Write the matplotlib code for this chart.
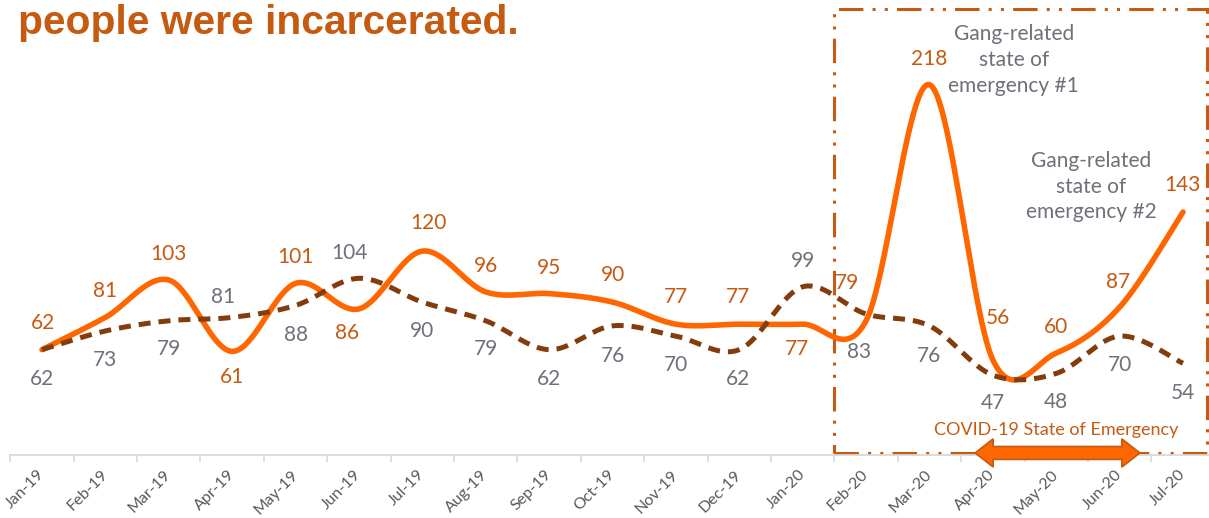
import matplotlib
matplotlib.use("Agg")
import matplotlib.pyplot as plt
from matplotlib.patches import Rectangle, Polygon
from matplotlib.transforms import ScaledTranslation
import numpy as np

months = ["Jan-19", "Feb-19", "Mar-19", "Apr-19", "May-19", "Jun-19", "Jul-19",
          "Aug-19", "Sep-19", "Oct-19", "Nov-19", "Dec-19", "Jan-20", "Feb-20",
          "Mar-20", "Apr-20", "May-20", "Jun-20", "Jul-20"]
series_a = [62, 81, 103, 61, 101, 86, 120, 96, 95, 90, 77, 77, 77, 79, 218, 56, 60, 87, 143]
series_b = [62, 73, 79, 81, 88, 104, 90, 79, 62, 76, 70, 62, 99, 83, 76, 47, 48, 70, 54]

# label offsets in pixels (dx, dy), picked to match the original layout
off_a = [(1, 27), (0, 26), (0, 26), (0, -26), (0, 26), (-12, -24), (6, 28), (0, 26),
         (0, 26), (0, 27), (0, 27), (-1, 27), (-6, -25), (-19, 38), (0, 26), (5, 42),
         (0, 26), (-2, 25), (-1, 27)]
off_b = [(0, -29), (0, -29), (0, -28), (-9, 20), (0, -30), (-9, 25), (0, -29), (0, -28),
         (0, -29), (0, -30), (0, -29), (-1, -29), (0, 26), (-7, -38), (0, -30), (0, -28),
         (0, -29), (0, -29), (0, -30)]

ORANGE = "#FF6600"
DARK_ORANGE = "#C55A11"
BROWN = "#843C0C"
GRAY = "#6F7079"


def smooth(y, n=40):
    # Catmull-Rom style smoothing like Excel's smoothed line
    x = np.arange(len(y), dtype=float)
    y = np.asarray(y, dtype=float)
    px = np.concatenate([[x[0]], x, [x[-1]]])
    py = np.concatenate([[y[0]], y, [y[-1]]])
    xs, ys = [], []
    t = np.linspace(0, 1, n)
    for i in range(len(y) - 1):
        p0 = np.array([px[i + 1], py[i + 1]])
        p3 = np.array([px[i + 2], py[i + 2]])
        p1 = p0 + (np.array([px[i + 2], py[i + 2]]) - np.array([px[i], py[i]])) / 6
        p2 = p3 - (np.array([px[i + 3], py[i + 3]]) - np.array([px[i + 1], py[i + 1]])) / 6
        b = ((1 - t) ** 3)[:, None] * p0 + (3 * (1 - t) ** 2 * t)[:, None] * p1 \
            + (3 * (1 - t) * t ** 2)[:, None] * p2 + (t ** 3)[:, None] * p3
        xs.extend(b[:, 0])
        ys.extend(b[:, 1])
    return np.array(xs), np.array(ys)


plt.rcParams["font.family"] = ["Lato", "DejaVu Sans"]

fig = plt.figure(figsize=(12.09, 5.18), dpi=100)
ax = fig.add_axes([10.3 / 1209, 63 / 518, 1204.4 / 1209, 455 / 518])
ax.set_xlim(-0.5, 18.5)
ax.set_ylim(0, 267.8)

xa, ya = smooth(series_a)
xb, yb = smooth(series_b)
ax.plot(xa, ya, color=ORANGE, lw=4, solid_capstyle="round", zorder=3, clip_on=False)
ax.plot(xb, yb, color=BROWN, lw=3.6, linestyle=(0, (2.4, 1.6)), zorder=4, clip_on=False)

for i, v in enumerate(series_a):
    ax.annotate(str(v), (i, v), xytext=off_a[i], textcoords="offset pixels",
                ha="center", va="center", fontsize=15, color=DARK_ORANGE, zorder=5)
for i, v in enumerate(series_b):
    ax.annotate(str(v), (i, v), xytext=off_b[i], textcoords="offset pixels",
                ha="center", va="center", fontsize=15, color=GRAY, zorder=5)

for s in ["top", "right", "left"]:
    ax.spines[s].set_visible(False)
ax.spines["bottom"].set_color("#D9D9D9")
ax.spines["bottom"].set_linewidth(1.3)
ax.set_yticks([])
ax.set_xticks(np.arange(len(months)) - 0.5)
ax.set_xticklabels([])
ax.tick_params(axis="x", which="major", length=5, color="#D9D9D9", width=1.2)
ax.set_xticks(np.arange(len(months)), minor=True)
ax.set_xticklabels(months, minor=True, rotation=45, ha="right", va="top",
                   fontsize=11.5, color="#595959")
ax.tick_params(axis="x", which="minor", length=0, pad=9)
shift = ScaledTranslation(5 / 100, 0, fig.dpi_scale_trans)
for lbl in ax.get_xticklabels(minor=True):
    lbl.set_transform(lbl.get_transform() + shift)

# highlighted period box
rect = Rectangle((12.5, 1.2), 5.88, 261.3, fill=False, edgecolor=DARK_ORANGE, lw=2.2,
                 linestyle=(0, (8, 3, 1, 3, 1, 3)), clip_on=False, zorder=2)
ax.add_patch(rect)

ax.text(15.33, 232.5, "Gang-related\nstate of\nemergency #1", ha="center", va="center",
        fontsize=15, color=GRAY, linespacing=1.35)
ax.text(16.55, 158, "Gang-related\nstate of\nemergency #2", ha="center", va="center",
        fontsize=15, color=GRAY, linespacing=1.35)

# COVID double arrow
x0, x1, yc = 14.72, 17.32, 1.2
hl, hh, sh = 0.285, 8.3, 3.8
arrow = Polygon([(x0, yc), (x0 + hl, yc + hh), (x0 + hl, yc + sh), (x1 - hl, yc + sh),
                 (x1 - hl, yc + hh), (x1, yc), (x1 - hl, yc - hh), (x1 - hl, yc - sh),
                 (x0 + hl, yc - sh), (x0 + hl, yc - hh)], closed=True,
                facecolor=ORANGE, edgecolor=DARK_ORANGE, lw=1.2, clip_on=False, zorder=6)
ax.add_patch(arrow)
ax.text(16.0, 14.8, "COVID-19 State of Emergency", ha="center", va="center",
        fontsize=13, color=DARK_ORANGE)

fig.text(18 / 1209, 1 - 34 / 518, "people were incarcerated.", ha="left", va="baseline",
         fontsize=29.3, fontweight="bold", color=DARK_ORANGE, family="Liberation Sans")

fig.savefig("out.png", dpi=100)
